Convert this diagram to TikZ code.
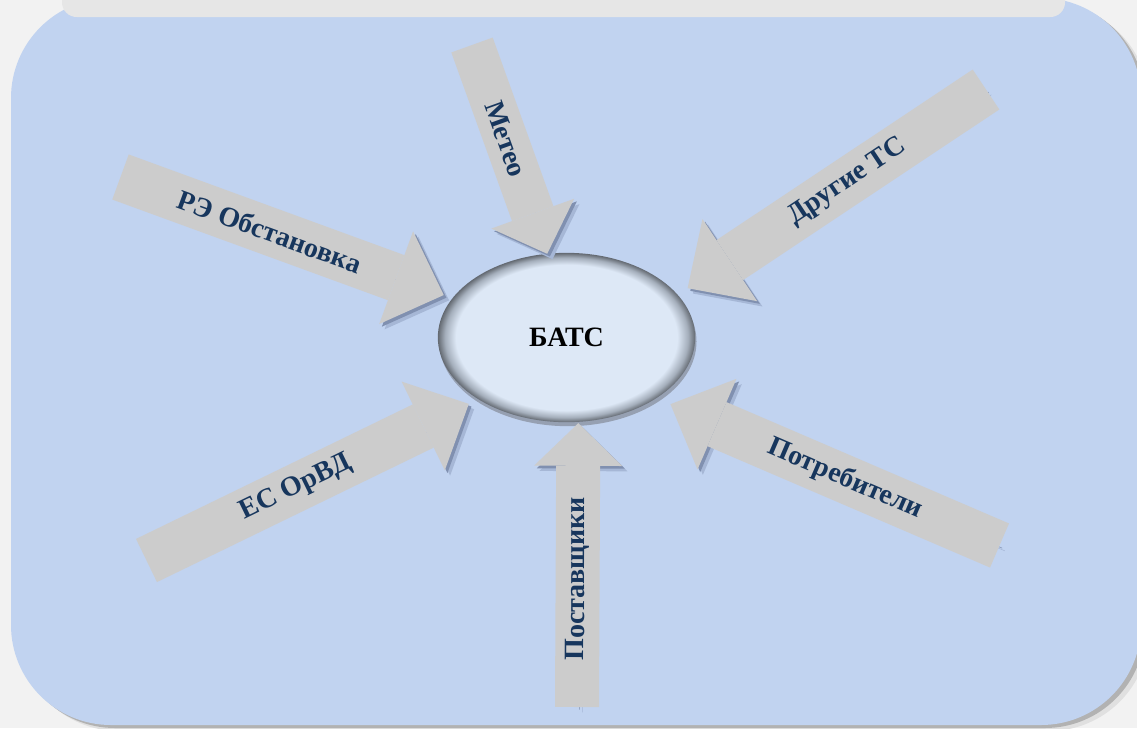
\documentclass[tikz,border=0pt]{standalone}
\usepackage{fontspec}
\setmainfont{Liberation Serif}
\usetikzlibrary{arrows.meta, shapes.geometric, positioning}

\definecolor{pagegray}{RGB}{242,242,242}
\definecolor{panelblue}{RGB}{193,211,240}
\definecolor{bargray}{RGB}{230,230,230}
\definecolor{arrowgray}{RGB}{204,204,204}
\definecolor{textblue}{RGB}{23,54,93}
\definecolor{shadowdark}{RGB}{128,144,176}
\definecolor{shadowlight}{RGB}{166,183,214}
\definecolor{ellshadow}{RGB}{150,160,178}
\definecolor{ellfill}{RGB}{221,232,246}
\definecolor{ellmid}{RGB}{165,175,188}
\definecolor{ellrim}{RGB}{100,106,114}
\pgfdeclareradialshading{batcshade}{\pgfpoint{0bp}{0bp}}{color(0bp)=(ellfill); color(21.5bp)=(ellfill); color(23.6bp)=(ellmid); color(25bp)=(ellrim); color(50bp)=(ellrim)}

\begin{document}
\begin{tikzpicture}[x=0.75pt, y=-0.75pt]
    \tikzstyle{every node}=[font=\fontsize{21}{25}\selectfont\bfseries]
    \tikzstyle{bigarrow}=[draw=arrowgray, line width=36pt, -{Triangle[length=38pt, width=74pt, line width=0pt]},
      preaction={draw=shadowlight, transform canvas={xshift=4pt, yshift=-4pt}},
      preaction={draw=shadowdark, transform canvas={xshift=2pt, yshift=-2pt}}]
    \tikzstyle{smallarrow}=[bigarrow, line width=33pt, -{Triangle[length=32pt, width=66pt, line width=0pt]}]
    \tikzstyle{arrowtext}=[sloped, pos=.45, text=textblue, inner sep=0pt]
    \useasboundingbox (0,0) rectangle (1137,728);
    \clip (0,0) rectangle (1137,728);
    \fill[pagegray] (0,0) rectangle (1137,728);
    \fill[black!12, rounded corners=75pt] (19,4) rectangle (1149,731);
    \fill[black!30, rounded corners=75pt] (15,1) rectangle (1145,728);
    \fill[panelblue, rounded corners=75pt] (11,-2) rectangle (1141,725);
    \fill[bargray, rounded corners=11pt] (62,-30) rectangle (1065,17);

    \node [ellipse, minimum width=193pt, minimum height=127pt, inner sep=0pt, outer sep=0pt,
      shading=batcshade, preaction={fill=ellshadow, transform canvas={xshift=1pt, yshift=-3pt}}]
      (batc) at (566.5,337.5) {БАТС};

    \coordinate (meteo) at (472,45);
    \coordinate (obst) at (120.5,177);
    \coordinate (other) at (986,89.5);
    \coordinate (suppl) at (577,707);
    \coordinate (orvd) at (146.5,560.5);
    \coordinate (users) at (999.5,545.5);
    \draw[smallarrow] (meteo) -- node[arrowtext] {Метео} (batc.103.6);
    \draw[bigarrow, shorten >=7pt] (obst) -- node[arrowtext] {РЭ Обстановка} (batc.161.6);
    \draw[bigarrow, shorten >=9pt] (other) -- node[arrowtext] {Другие ТС} (batc.21.2);
    \draw[smallarrow, shorten >=1pt] (suppl) -- node[arrowtext] {Поставщики} (batc.-82.9);
    \draw[bigarrow, shorten >=8pt] (orvd) -- node[arrowtext] {ЕС ОрВД} (batc.-145.6);
    \draw[bigarrow, shorten >=11.5pt] (users) -- node[arrowtext] {Потребители} (batc.-34.8);
  \end{tikzpicture}
\end{document}
